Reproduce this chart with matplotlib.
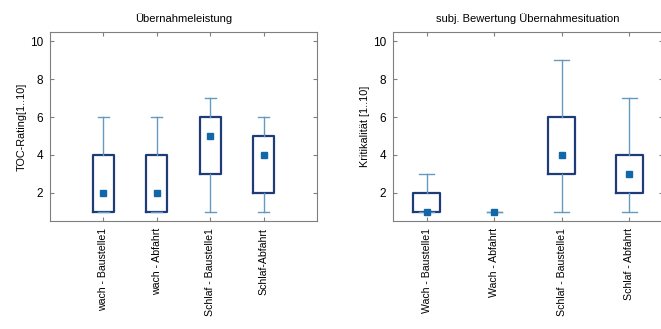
import matplotlib
matplotlib.use("Agg")
import matplotlib.pyplot as plt

plt.rcParams["font.family"] = ["Liberation Sans", "DejaVu Sans"]

# left panel: Übernahmeleistung
left_labels = ["wach - Baustelle1", "wach - Abfahrt", "Schlaf - Baustelle1", "Schlaf-Abfahrt"]
left_whislo = [1, 1, 1, 1]
left_q1 = [1, 1, 3, 2]
left_med = [2, 2, 5, 4]
left_q3 = [4, 4, 6, 5]
left_whishi = [6, 6, 7, 6]

# right panel: subj. Bewertung Übernahmesituation
right_labels = ["Wach - Baustelle1", "Wach - Abfahrt", "Schlaf - Baustelle1", "Schlaf - Abfahrt"]
right_whislo = [1, 1, 1, 1]
right_q1 = [1, 1, 3, 2]
right_med = [1, 1, 4, 3]
right_q3 = [2, 1, 6, 4]
right_whishi = [3, 1, 9, 7]

BOX_COLOR = "#1f3c78"
WHISK_COLOR = "#6699c0"
MARK_COLOR = "#1267a8"
SPINE_COLOR = "#7f7f7f"


def draw_panel(ax, labels, whislo, q1, med, q3, whishi, title, ylabel, xlim, capw):
    stats = []
    for lab, lo, a, m, b, hi in zip(labels, whislo, q1, med, q3, whishi):
        stats.append({"label": lab, "whislo": lo, "q1": a, "med": m, "q3": b, "whishi": hi, "fliers": []})
    pos = list(range(1, len(labels) + 1))
    parts = ax.bxp(stats, positions=pos, widths=0.4, showfliers=False, capwidths=capw,
                   boxprops=dict(color=BOX_COLOR, linewidth=1.6),
                   whiskerprops=dict(color=WHISK_COLOR, linewidth=1.0),
                   capprops=dict(color=WHISK_COLOR, linewidth=1.0),
                   medianprops=dict(linewidth=0))
    # a collapsed box shows only as the thin cap line
    for box, a, b in zip(parts["boxes"], q1, q3):
        if a == b:
            box.set_visible(False)
    ax.plot(pos, med, "s", color=MARK_COLOR, markersize=4.2, zorder=5)
    ax.set_xlim(*xlim)
    ax.set_ylim(0.5, 10.5)
    ax.set_yticks([2, 4, 6, 8, 10])
    ax.set_xticks(pos)
    ax.set_xticklabels(labels, rotation=90, fontsize=7.6)
    ax.tick_params(axis="y", labelsize=8.5)
    ax.tick_params(direction="in", top=True, right=True, color=SPINE_COLOR, length=3, pad=5)
    for s in ax.spines.values():
        s.set_color(SPINE_COLOR)
    ax.set_title(title, fontsize=8, pad=7)
    ax.set_ylabel(ylabel, fontsize=7.8, labelpad=2)


fig = plt.figure(figsize=(6.61, 3.29), dpi=100)
ax1 = fig.add_axes([0.0756, 0.328, 0.404, 0.575])
ax2 = fig.add_axes([0.5946, 0.328, 0.4085, 0.575])

draw_panel(ax1, left_labels, left_whislo, left_q1, left_med, left_q3, left_whishi,
           "Übernahmeleistung", "TOC-Rating[1..10]", (0, 5), 0.2)
draw_panel(ax2, right_labels, right_whislo, right_q1, right_med, right_q3, right_whishi,
           "subj. Bewertung Übernahmesituation", "Kritikalität [1..10]", (0.5, 4.5), 0.22)

fig.savefig("out.png", dpi=100)
